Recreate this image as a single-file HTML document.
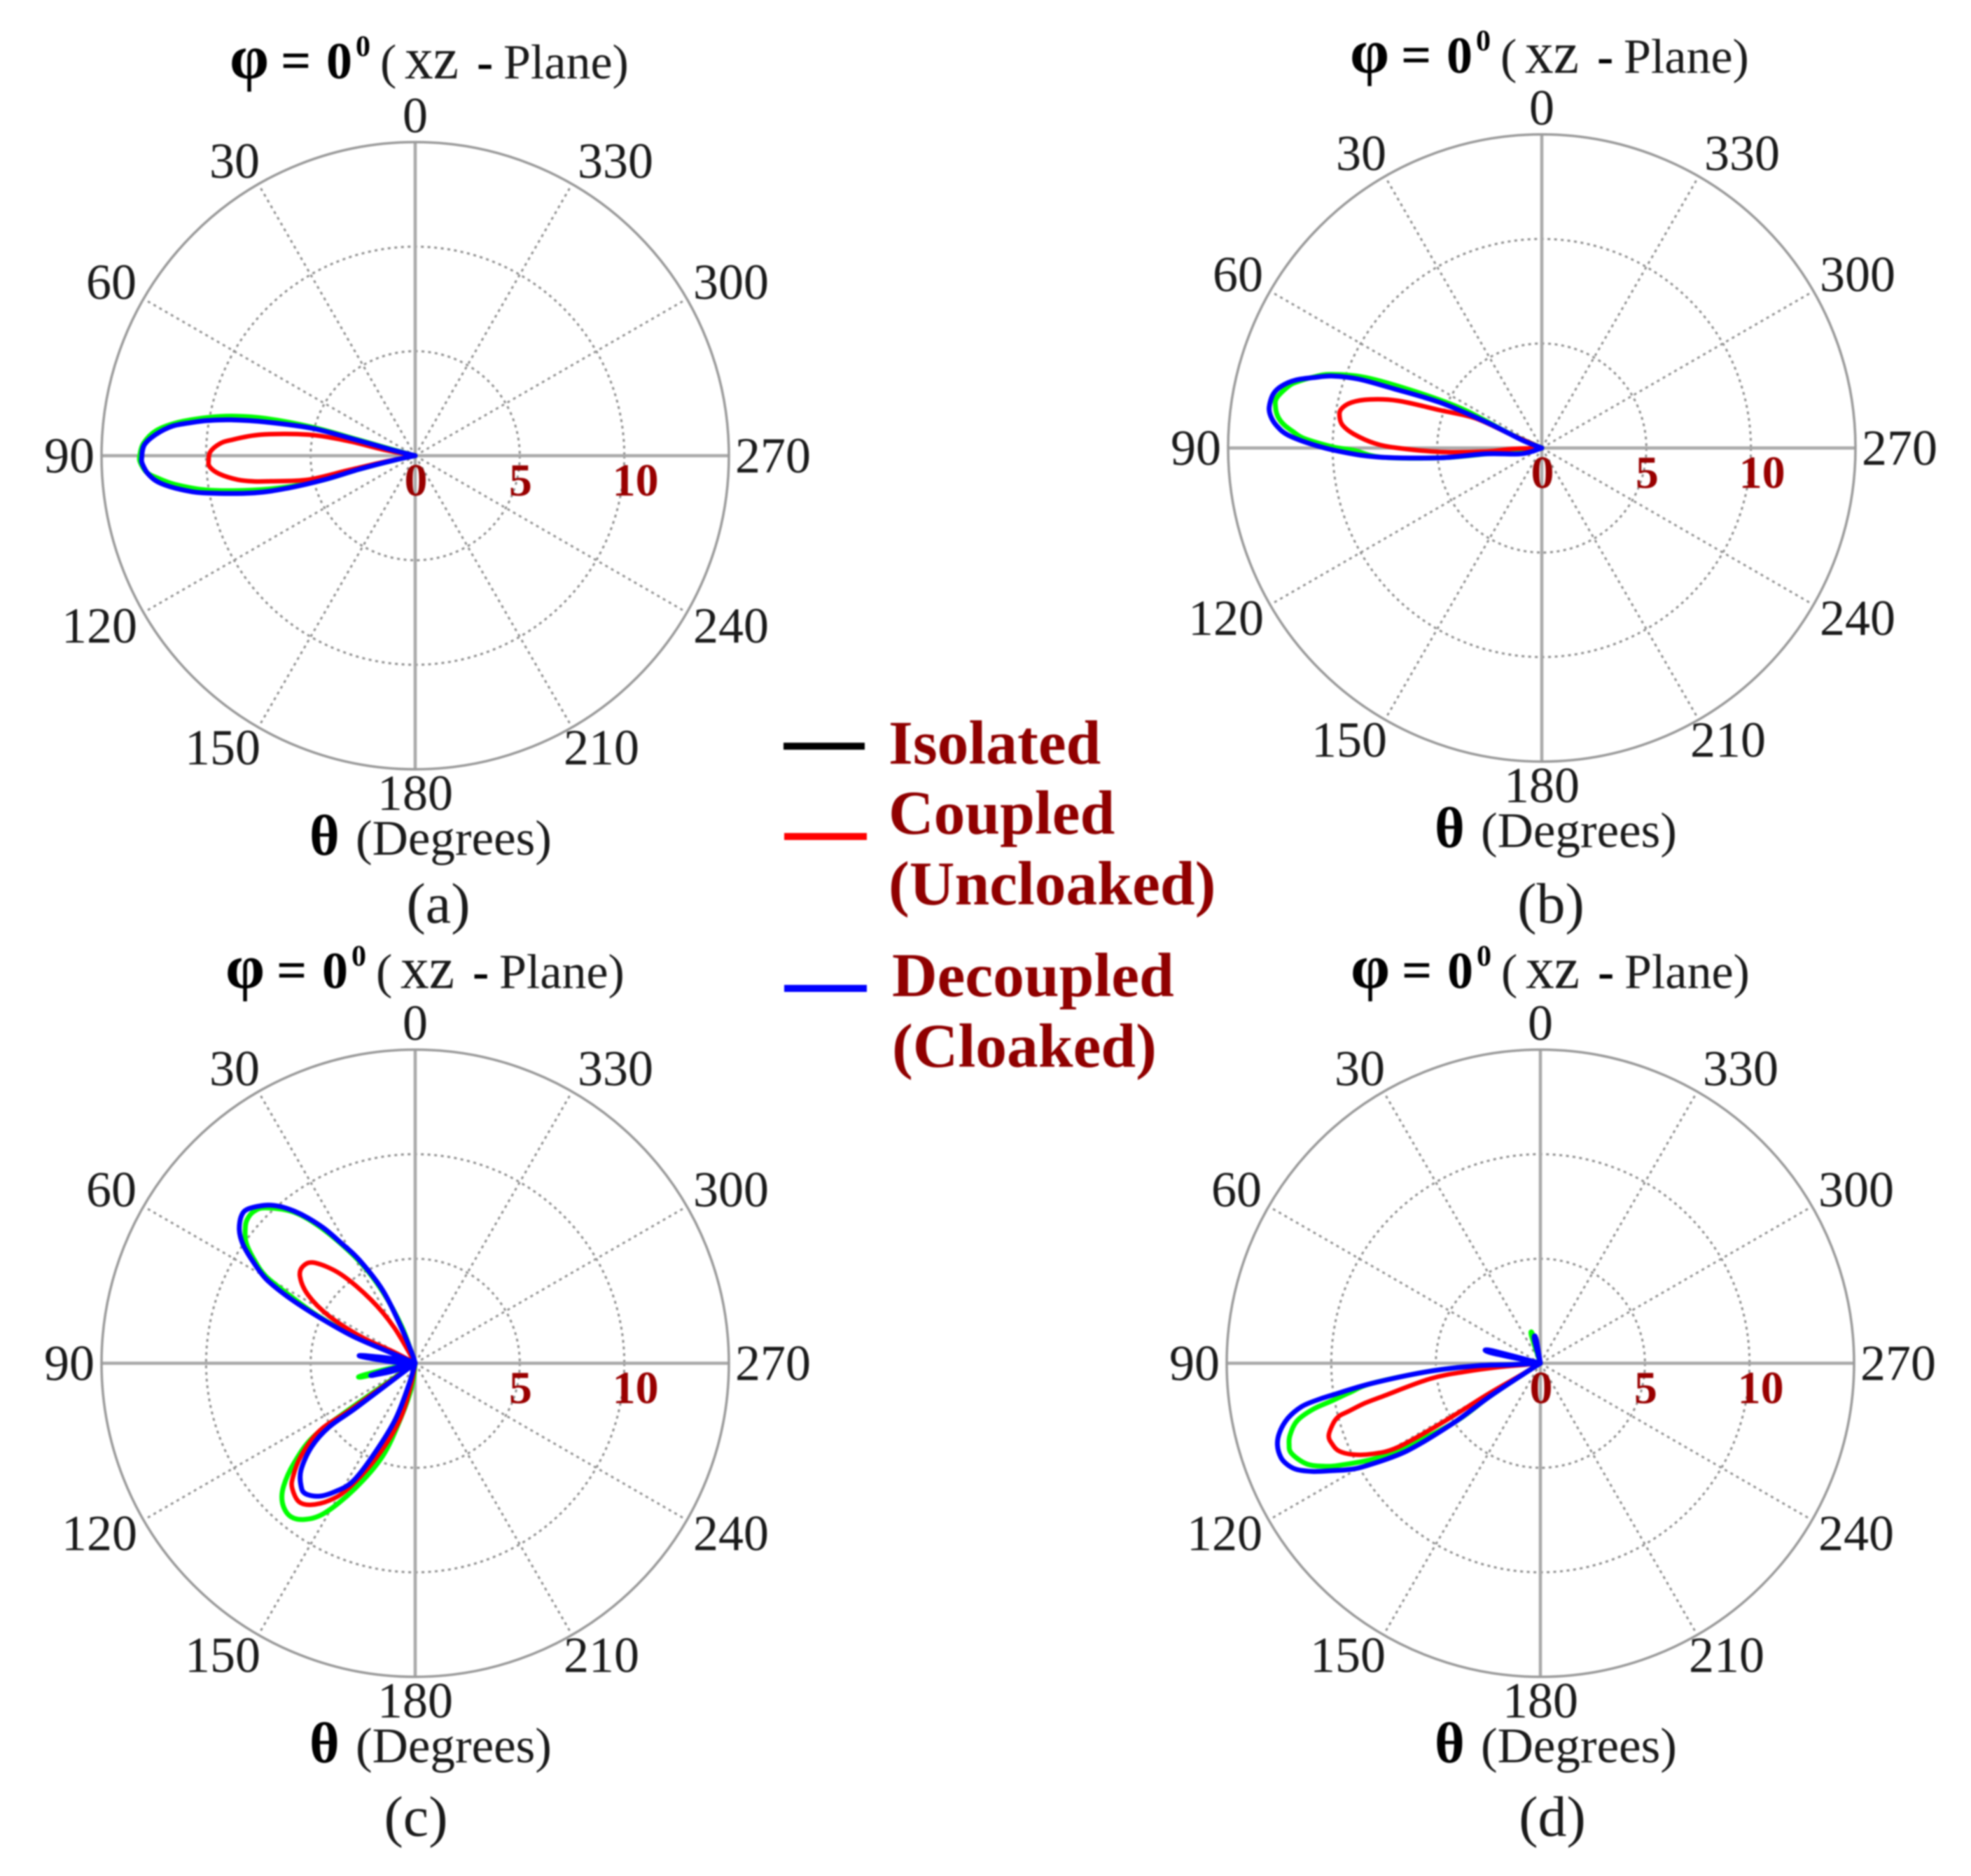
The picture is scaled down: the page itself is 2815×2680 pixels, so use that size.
<!DOCTYPE html>
<html lang="en">
<head>
<meta charset="utf-8">
<title>Polar radiation patterns</title>
<style>
html,body{margin:0;padding:0;background:#fff;}
svg{display:block;filter:blur(1px);}
text{font-family:"Liberation Serif",serif;fill:#1a1a1a;}
.b{font-weight:bold;fill:#000;}
.leg{font-weight:bold;font-size:89.5px;fill:#900000;}
.t{font-size:70px;}
.d{font-size:71px;}
</style>
</head>
<body>
<svg id="figure" width="2815" height="2680" viewBox="0 0 2815 2680" xmlns="http://www.w3.org/2000/svg">
<rect width="2815" height="2680" fill="#fff"/>

<g id="panel-a" transform="translate(593 651)">
  <g class="grid"></g>
  <g class="curves"></g>
  <g transform="translate(0 -3)">
    <text class="b" x="-265" y="-536" font-size="90">φ</text><text class="b" x="-192" y="-536" font-size="76">=</text><text class="b" x="-127" y="-536" font-size="74">0</text><text class="b" x="-85" y="-568" font-size="42">0</text>
    <text class="t" x="-50" y="-536">(</text><text x="-15" y="-536" font-size="85" textLength="77" lengthAdjust="spacingAndGlyphs">xz</text><text class="b" x="88" y="-536" font-size="70">-</text><text class="t" x="126" y="-536">Plane)</text>
  </g>
  <g><text class="b" x="-151" y="570" font-size="82">θ</text><text class="d" x="-85" y="570">(Degrees)</text></g>
  <text x="33" y="667" font-size="82" text-anchor="middle">(a)</text>
</g>

<g id="panel-b" transform="translate(2202 640)">
  <g class="grid"></g>
  <g class="curves"></g>
  <g transform="translate(-9 0)">
    <text class="b" x="-265" y="-536" font-size="90">φ</text><text class="b" x="-192" y="-536" font-size="76">=</text><text class="b" x="-127" y="-536" font-size="74">0</text><text class="b" x="-85" y="-568" font-size="42">0</text>
    <text class="t" x="-50" y="-536">(</text><text x="-15" y="-536" font-size="85" textLength="77" lengthAdjust="spacingAndGlyphs">xz</text><text class="b" x="88" y="-536" font-size="70">-</text><text class="t" x="126" y="-536">Plane)</text>
  </g>
  <g><text class="b" x="-153" y="570" font-size="82">θ</text><text class="d" x="-87" y="570">(Degrees)</text></g>
  <text x="13" y="678" font-size="82" text-anchor="middle">(b)</text>
</g>

<g id="panel-c" transform="translate(593 1947.5)">
  <g class="grid"></g>
  <g class="curves"></g>
  <g transform="translate(-6 0)">
    <text class="b" x="-265" y="-536" font-size="90">φ</text><text class="b" x="-192" y="-536" font-size="76">=</text><text class="b" x="-127" y="-536" font-size="74">0</text><text class="b" x="-85" y="-568" font-size="42">0</text>
    <text class="t" x="-50" y="-536">(</text><text x="-15" y="-536" font-size="85" textLength="77" lengthAdjust="spacingAndGlyphs">xz</text><text class="b" x="88" y="-536" font-size="70">-</text><text class="t" x="126" y="-536">Plane)</text>
  </g>
  <g><text class="b" x="-151" y="570" font-size="82">θ</text><text class="d" x="-85" y="570">(Degrees)</text></g>
  <text x="1" y="675" font-size="82" text-anchor="middle">(c)</text>
</g>

<g id="panel-d" transform="translate(2200 1947.5)">
  <g class="grid"></g>
  <g class="curves"></g>
  <g transform="translate(-6 0)">
    <text class="b" x="-265" y="-536" font-size="90">φ</text><text class="b" x="-192" y="-536" font-size="76">=</text><text class="b" x="-127" y="-536" font-size="74">0</text><text class="b" x="-85" y="-568" font-size="42">0</text>
    <text class="t" x="-50" y="-536">(</text><text x="-15" y="-536" font-size="85" textLength="77" lengthAdjust="spacingAndGlyphs">xz</text><text class="b" x="88" y="-536" font-size="70">-</text><text class="t" x="126" y="-536">Plane)</text>
  </g>
  <g><text class="b" x="-151" y="570" font-size="82">θ</text><text class="d" x="-85" y="570">(Degrees)</text></g>
  <text x="17" y="675" font-size="82" text-anchor="middle">(d)</text>
</g>

<g>
  <g>
    <rect x="1119" y="1061" width="116" height="10" fill="#000"/>
    <text class="leg" x="1269" y="1091">Isolated</text>
  </g>
  <g>
    <rect x="1120" y="1190" width="118" height="10" fill="#f00"/>
    <text class="leg" x="1269" y="1191">Coupled</text>
    <text class="leg" x="1269" y="1292">(Uncloaked)</text>
  </g>
  <g>
    <rect x="1120" y="1407" width="118" height="10" fill="#00f"/>
    <text class="leg" x="1274" y="1423">Decoupled</text>
    <text class="leg" x="1274" y="1524">(Cloaked)</text>
  </g>
</g>
</svg>

<script>
// Axis data
const angleTicks = [0,30,60,90,120,150,180,210,240,270,300,330];
const angleLabels = ['0','30','60','90','120','150','180','210','240','270','300','330'];
const radialRings = [5,10];
const radialLabels = ['0','5','10'];
const radialValues = [0,5,10];
const radialMax = 15;

// Panel (a): angle in degrees, gain on the radial scale
const aGreenTheta = [75,75,74.4,74.5,76,77.6,79.6,82.1,84.5,87.44,90,91.4,93.6,94.8,96.8,99.4,101.9,103.8,104.8,103.6,102,100];
const aGreenGain  = [0,1,2.8,5.1,7.36,8.8,10.1,11.49,12.45,13.01,13.17,13.15,12.86,12.43,11.58,10.07,7.99,6.2,4.5,2.75,1,0];
const aRedTheta = [79,79,77.6,78.9,82.2,85.15,86.6,88.9,91.2,93.1,95.3,97.7,99.06,100,102.6,102.3,101.3,100];
const aRedGain  = [0,1.6,3.31,5.23,7.43,8.85,9.39,9.8,9.88,9.84,9.41,8.56,7.8,7.03,5.26,3.31,1.6,0];
const aBlueTheta = [75,76,75,75.1,77.3,79,80.4,81.6,83.04,85.26,87.7,90.4,91.86,94.16,96.18,98.5,100.2,103,104.3,104.8,103.6,102,100];
const aBlueGain  = [0,1,2.77,5.08,7.32,8.98,10.07,10.83,11.69,12.43,12.96,13.08,13.04,12.76,12.24,11.17,10.09,7.9,6.22,4.5,2.75,1,0];

// Panel (b)
const bGreenTheta = [64,66,63.8,65.9,68.2,70.8,72.65,74.8,76.3,79.3,81.3,83.2,84.8,86.24,87.75,89.7,90.7,93.3,95.5,96,90];
const bGreenGain  = [0,1.66,4.18,6.55,9.08,10.7,11.41,12.1,12.47,12.9,12.88,12.71,12.39,11.92,11.35,10,9,7.67,4.89,2.65,0];
const bRedTheta = [66,66.2,65.9,69.6,71.8,74.2,76.56,79.15,81.5,83.63,85.74,88.4,90,92.2,93.6,92,90];
const bRedGain  = [0,1.66,3.5,5.19,7.24,8.54,9.36,9.78,9.77,9.56,9.02,8,6.88,4.87,2.64,1.5,0];
const bBlueTheta = [68,68,65,65.9,68.2,69.4,71,72.8,74.6,76.64,78.7,81.5,83.4,85.2,87.1,89.4,91.4,93.3,95.5,96,106,100];
const bBlueGain  = [0,1.04,2.9,5.33,7.65,9.37,10.57,11.4,12.22,12.8,13.1,13.18,13.04,12.72,12.14,10.78,9.33,7.67,4.89,2.65,1,0];

// Panel (c)
const cGreenTheta = [20,20,24.4,28.7,34.3,38.7,43.8,46.6,49.4,51.6,54.5,57.3,59.8,61.6,64,66,65,66, 95,101,103,104.5,107, 125,125,125.9,129.5,133.1,136.4,140.5,144.4,148.8,154.3,160.7,165.5,172,172];
const cGreenGain  = [0,1.8,3.75,5.55,7.7,9.25,10.3,10.59,10.58,10.37,9.93,9.14,8.25,6.84,5.2,3.3,1.35,0, 0,1,2.6,2.58,1, 0,3.94,6.05,7.51,8.62,9.21,9.45,9.19,8.39,6.66,4.7,2.63,1.1,0];
const cRedTheta = [30,30.4,34.8,39.9,44.9,48.9,53,57.5,61.3,63.9,62.2,62, 125.7,125.7,125.2,129.1,133,135.6,139.9,143.5,147.9,151.8,157.5,164.5,169,170];
const cRedGain  = [0,1.97,3.7,5.55,6.78,7.09,6.9,6.07,4.69,2.84,1.12,0, 0,3.7,5.58,7.04,8,8.4,8.65,8.42,7.75,6.82,4.93,2.87,1.1,0];
const cBlueTheta = [18,18,21.2,24,28.4,31.7,34,36.4,38.5,40.75,43.3,47.2,49.65,52.8,55.3,57.7,60.5,62.4,64.3,66.5,66.7,67, 78,81.5,83,87,88, 98,103,105,106,110, 127,127,126.5,128.9,133.1,137.2,140,144.3,148.3,152.1,155.1,160.3,163.5,165];
const cBlueGain  = [0,0.49,1.82,3.81,5.61,6.78,7.77,8.63,9.3,9.9,10.39,10.87,10.9,10.56,10.03,9.23,8.2,6.91,5.19,3.27,1.32,0, 1,2.5,2.53,1,0, 0,1,2.07,2.07,1, 0,3.48,5.12,6.37,7.48,8.03,8.15,7.83,7.19,6.41,5.02,2.94,1.14,0];

// Panel (d)
const dGreenTheta = [8,15,18,12, 93,92.8,92.3,94.1,96.8,98.7,100.2,101.4,103.3,105.9,107.8,109.9,113.3,115.6,117.1,119.7,121.7,124.5,123.3,122.6,122];
const dGreenGain  = [0,1.39,1.39,0, 0,1.36,3.04,5.28,8.1,9.2,10.12,11.07,11.95,12.44,12.62,12.66,12.17,11.41,10.68,9.27,7.77,5,2.95,0.95,0];
const dRedTheta = [95,95.3,96.4,98,101.8,102.8,104.07,104.7,106.1,108.9,111.2,113.6,116,118.3,120.5,121.2,120.5,121.3,121];
const dRedGain  = [0,1.93,3.62,5.32,7.66,8.6,9.46,9.95,10.3,10.7,10.68,10.5,9.96,9.15,7.93,5.51,2.88,1.2,0];
const dBlueTheta = [8,10,14,14, 70,75.5,78,85, 93,92.8,92.3,94.1,96.8,98.7,99.3,100.3,102.3,104.84,107.3,110,111.95,113.6,115.5,117.3,119,120.4,123.3,124.5,123.3,122.6,122];
const dBlueGain  = [0,1.19,1.19,0, 0,2.43,2.4,0, 0,1.36,3.04,5.28,8.11,10.07,10.77,11.6,12.36,12.9,13.17,13.2,13.02,12.7,12.02,11.2,10.49,9.73,7.64,5.04,2.97,0.95,0];

const panelIds = ['a','b','c','d'];
const greenThetas = {a:aGreenTheta,b:bGreenTheta,c:cGreenTheta,d:dGreenTheta};
const greenGains  = {a:aGreenGain,b:bGreenGain,c:cGreenGain,d:dGreenGain};
const redThetas   = {a:aRedTheta,b:bRedTheta,c:cRedTheta,d:dRedTheta};
const redGains    = {a:aRedGain,b:bRedGain,c:cRedGain,d:dRedGain};
const blueThetas  = {a:aBlueTheta,b:bBlueTheta,c:cBlueTheta,d:dBlueTheta};
const blueGains   = {a:aBlueGain,b:bBlueGain,c:cBlueGain,d:dBlueGain};

const NS = 'http://www.w3.org/2000/svg';
const OUTER_RADIUS = 448;

// Axis functions: 0 deg at top, angle increases counter-clockwise
function radiusScale(gain){ return gain / radialMax * OUTER_RADIUS; }
function polarX(theta, gain){ return -radiusScale(gain) * Math.sin(theta * Math.PI / 180); }
function polarY(theta, gain){ return -radiusScale(gain) * Math.cos(theta * Math.PI / 180); }

// Smooth each lobe separately; a zero gain returns the curve to the origin
function lobePath(thetas, gains){
  const lobes = [];
  let cur = [];
  for (let i = 0; i < thetas.length; i++){
    const p = [polarX(thetas[i], gains[i]), polarY(thetas[i], gains[i])];
    cur.push(p);
    if (gains[i] === 0){
      if (cur.length > 1) lobes.push(cur);
      cur = [p];
    }
  }
  if (cur.length > 1) lobes.push(cur);
  let d = '';
  lobes.forEach(function(pts){
    d += 'M' + pts[0][0].toFixed(1) + ' ' + pts[0][1].toFixed(1);
    for (let i = 0; i < pts.length - 1; i++){
      const p0 = pts[Math.max(i-1,0)], p1 = pts[i], p2 = pts[i+1], p3 = pts[Math.min(i+2,pts.length-1)];
      const c1x = p1[0] + (p2[0]-p0[0])/6, c1y = p1[1] + (p2[1]-p0[1])/6;
      const c2x = p2[0] - (p3[0]-p1[0])/6, c2y = p2[1] - (p3[1]-p1[1])/6;
      d += 'C' + c1x.toFixed(1) + ' ' + c1y.toFixed(1) + ' ' + c2x.toFixed(1) + ' ' + c2y.toFixed(1) + ' ' + p2[0].toFixed(1) + ' ' + p2[1].toFixed(1);
    }
  });
  return d;
}

panelIds.forEach(function(id){
  const panel = document.getElementById('panel-' + id);
  const grid = panel.querySelector('.grid');
  const curves = panel.querySelector('.curves');

  radialRings.forEach(function(v){
    const ring = document.createElementNS(NS, 'circle');
    
    
    ring.setAttribute('r', radiusScale(v));
    ring.setAttribute('fill', 'none');
    ring.setAttribute('stroke', '#8f8f8f');
    ring.setAttribute('stroke-width', '3');
    ring.setAttribute('stroke-dasharray', '4 5.5');
    grid.appendChild(ring);
  });

  angleTicks.forEach(function(th, i){
    const major = th % 90 === 0;
    const ray = document.createElementNS(NS, 'line');
    
    
    ray.setAttribute('x1', 0);
    ray.setAttribute('y1', 0);
    ray.setAttribute('x2', polarX(th, radialMax));
    ray.setAttribute('y2', polarY(th, radialMax));
    ray.setAttribute('stroke', major ? '#a8a8a8' : '#8f8f8f');
    ray.setAttribute('stroke-width', major ? '4.5' : '3');
    if (!major) ray.setAttribute('stroke-dasharray', '4 5.5');
    grid.appendChild(ray);

    const s = Math.sin(th * Math.PI / 180);
    const c = Math.cos(th * Math.PI / 180);
    const half = angleLabels[i].length * 17;
    let gap = Math.abs(s) > 0.6 ? 12 : 0;
    if (th > 180 && Math.abs(s) < 0.6 && Math.abs(s) > 0.1) gap = c > 0 ? 11 : -9;
    const sign = Math.abs(s) < 1e-6 ? 0 : (s > 0 ? -1 : 1);
    const nudge = (c > 0.1 && c < 0.6) ? -5 : (c < -0.8 ? -4 : 0);
    const tick = document.createElementNS(NS, 'text');
    
    
    tick.setAttribute('x', polarX(th, radialMax) + sign * (half + gap));
    tick.setAttribute('y', -486 * c + 24 + nudge);
    tick.setAttribute('font-size', '72');
    tick.setAttribute('text-anchor', 'middle');
    tick.textContent = angleLabels[i];
    grid.appendChild(tick);
  });

  const outer = document.createElementNS(NS, 'circle');
  
  
  outer.setAttribute('r', radiusScale(radialMax));
  outer.setAttribute('fill', 'none');
  outer.setAttribute('stroke', '#9a9a9a');
  outer.setAttribute('stroke-width', '3.5');
  grid.appendChild(outer);

  radialValues.forEach(function(v, i){
    if (id === 'c' && v === 0) return;
    const lab = document.createElementNS(NS, 'text');
    
    
    lab.setAttribute('x', radiusScale(v) + (radialLabels[i].length > 1 ? 16 : 1));
    lab.setAttribute('y', 57);
    lab.setAttribute('font-size', '66');
    lab.setAttribute('font-weight', 'bold');
    lab.setAttribute('text-anchor', 'middle');
    lab.setAttribute('style', 'fill:#990000');
    lab.textContent = radialLabels[i];
    grid.appendChild(lab);
  });

  const green = document.createElementNS(NS, 'path');
  
  
  green.setAttribute('d', lobePath(greenThetas[id], greenGains[id]));
  green.setAttribute('fill', 'none');
  green.setAttribute('stroke', '#00ff00');
  green.setAttribute('stroke-width', '7');
  green.setAttribute('stroke-linejoin', 'round');
  green.setAttribute('stroke-linecap', 'round');
  curves.appendChild(green);

  const red = document.createElementNS(NS, 'path');
  
  
  red.setAttribute('d', lobePath(redThetas[id], redGains[id]));
  red.setAttribute('fill', 'none');
  red.setAttribute('stroke', '#ff0000');
  red.setAttribute('stroke-width', '6.5');
  red.setAttribute('stroke-linejoin', 'round');
  red.setAttribute('stroke-linecap', 'round');
  curves.appendChild(red);

  const blue = document.createElementNS(NS, 'path');
  
  
  blue.setAttribute('d', lobePath(blueThetas[id], blueGains[id]));
  blue.setAttribute('fill', 'none');
  blue.setAttribute('stroke', '#0000ff');
  blue.setAttribute('stroke-width', '7');
  blue.setAttribute('stroke-linejoin', 'round');
  blue.setAttribute('stroke-linecap', 'round');
  curves.appendChild(blue);
});
</script>
</body>
</html>
